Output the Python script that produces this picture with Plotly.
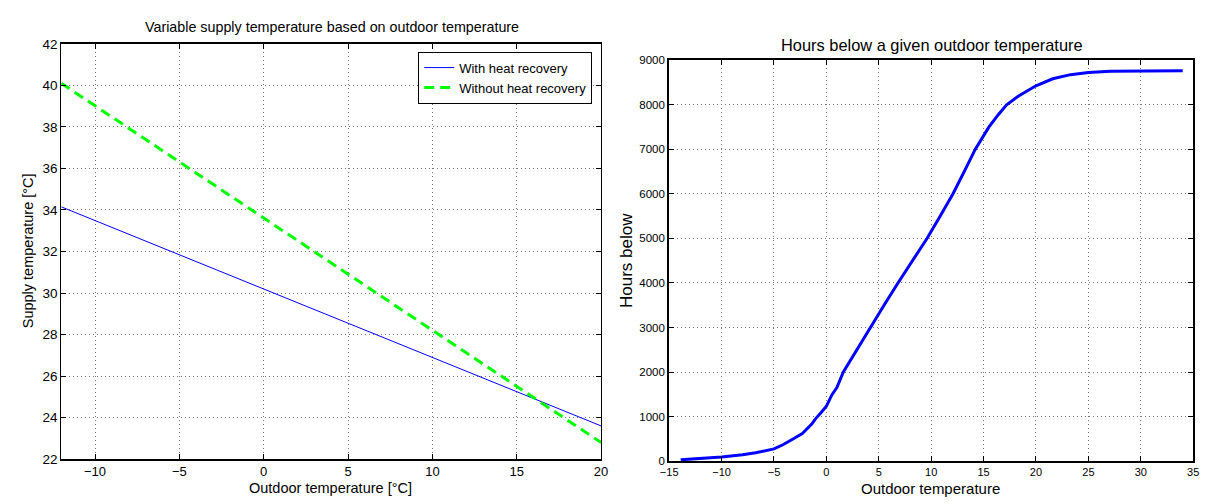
import plotly.graph_objects as go

# Supply temperature curves (endpoints of the linear heating curves)
outdoor_supply = [-12, 20]
supply_with_hr = [34.15, 23.6]
supply_without_hr = [40.1, 22.8]

# Cumulative hours below a given outdoor temperature
temp_hours = [-13.9, -12, -10, -8, -6.75, -5, -4.15, -3.06, -2.3, -1.4, -1.0, -0.5, 0.0,
              0.52, 1.0, 1.62, 2.9, 4.2, 5.5, 6.83, 8.2, 9.6, 10.85, 12.07, 13.15, 14.2,
              15.5, 16.4, 17.2, 18.3, 20.0, 21.6, 23.3, 25.0, 27.1, 30.0, 34.0]
hours_below = [29, 55, 94, 140, 187, 273, 367, 511, 619, 830, 960, 1090, 1230,
               1485, 1650, 2000, 2500, 3000, 3500, 4000, 4500, 5000, 5500, 6000, 6500, 7000,
               7500, 7780, 8000, 8193, 8430, 8586, 8679, 8729, 8757, 8764, 8764]

left_xticks = [-10, -5, 0, 5, 10, 15, 20]
left_yticks = [22, 24, 26, 28, 30, 32, 34, 36, 38, 40, 42]
right_xticks = [-15, -10, -5, 0, 5, 10, 15, 20, 25, 30, 35]
right_yticks = [0, 1000, 2000, 3000, 4000, 5000, 6000, 7000, 8000, 9000]

W, H = 1214, 504
FONT = "Liberation Sans, Arial, sans-serif"


def px_x(p):
    return p / W


def px_y(p):
    return 1 - p / H


fig = go.Figure()

fig.add_trace(go.Scatter(
    x=outdoor_supply, y=supply_with_hr, mode="lines", name="With heat recovery",
    line=dict(color="#0000FF", width=1), xaxis="x", yaxis="y"))
fig.add_trace(go.Scatter(
    x=outdoor_supply, y=supply_without_hr, mode="lines", name="Without heat recovery",
    line=dict(color="#00FF00", width=3, dash="10px,6px"), xaxis="x", yaxis="y"))
fig.add_trace(go.Scatter(
    x=temp_hours, y=hours_below, mode="lines", showlegend=False,
    line=dict(color="#0000FF", width=3), xaxis="x2", yaxis="y2"))


def axis_style(lw):
    return dict(showline=True, linecolor="black", linewidth=lw, mirror="ticks",
                ticks="inside", ticklen=5, tickcolor="black", showgrid=True,
                gridcolor="#777", griddash="1px,3px", gridwidth=1, zeroline=False)


fig.update_layout(
    width=W, height=H,
    margin=dict(l=0, r=0, t=0, b=0),
    paper_bgcolor="white", plot_bgcolor="white",
    font=dict(family=FONT, color="black"),
    xaxis=dict(domain=[px_x(53), px_x(600)], range=[-12, 20], tickvals=left_xticks,
               tickfont=dict(size=13), anchor="y", **axis_style(1.5)),
    yaxis=dict(domain=[px_y(466), px_y(38)], range=[22, 42], tickvals=left_yticks,
               tickfont=dict(size=13.5), anchor="x", **axis_style(1)),
    xaxis2=dict(domain=[px_x(669), px_x(1200)], range=[-15, 35], tickvals=right_xticks,
                tickfont=dict(size=11), anchor="y2", **axis_style(2)),
    yaxis2=dict(domain=[px_y(468), px_y(55)], range=[0, 9000], tickvals=right_yticks,
                tickfont=dict(size=11.5), anchor="x2", **axis_style(2)),
    legend=dict(x=px_x(591), xanchor="right", y=px_y(46), yanchor="top",
                bgcolor="white", bordercolor="black", borderwidth=1,
                font=dict(size=13), tracegroupgap=0, itemwidth=30),
    showlegend=True,
)

annotations = [
    dict(text="Variable supply temperature based on outdoor temperature",
         x=px_x(327), y=px_y(21), font=dict(size=14.3)),
    dict(text="Outdoor temperature [°C]", x=px_x(326), y=px_y(496), font=dict(size=14.5)),
    dict(text="Supply temperature [°C]", x=px_x(19), y=px_y(251), font=dict(size=14.5),
         textangle=-90),
    dict(text="Hours below a given outdoor temperature",
         x=px_x(935), y=px_y(39), font=dict(size=16.4)),
    dict(text="Outdoor temperature", x=px_x(934), y=px_y(496), font=dict(size=15)),
    dict(text="Hours below", x=px_x(625), y=px_y(261), font=dict(size=17), textangle=-90),
]
for a in annotations:
    fig.add_annotation(xref="paper", yref="paper", showarrow=False,
                       xanchor="center", yanchor="middle", **a)

fig.write_html("out.html")
